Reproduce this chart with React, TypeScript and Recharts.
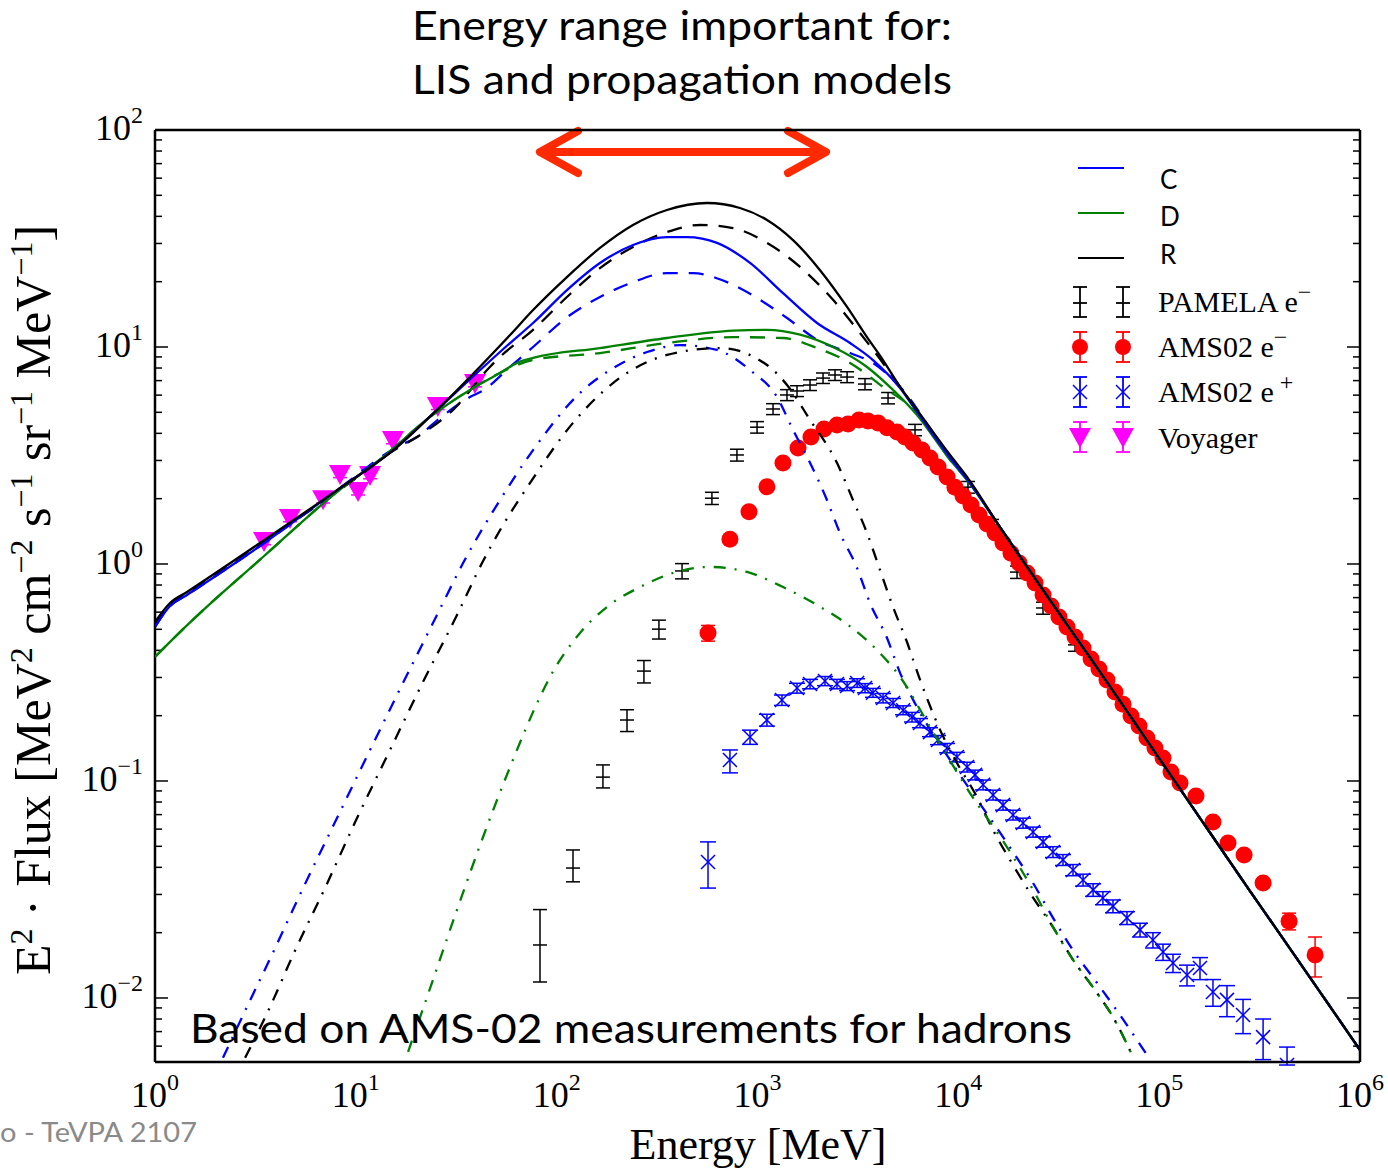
import React from 'react';
import { ComposedChart, Line, Scatter, XAxis, YAxis, ErrorBar, ReferenceLine } from 'recharts';

const W = 1388;
const H = 1171;
const SERIF = '"Liberation Serif", "Times New Roman", serif';
const SANS = 'Lato, "Open Sans", sans-serif';

const X_DOMAIN: [number, number] = [1, 1e6];
const Y_DOMAIN: [number, number] = [0.00507, 100];
const X_MAJOR = [1, 10, 100, 1000, 10000, 100000, 1000000];
const X_MAJOR_EXP = ['0', '1', '2', '3', '4', '5', '6'];
const Y_MAJOR = [0.01, 0.1, 1, 10, 100];
const Y_MAJOR_EXP = ['\u22122', '\u22121', '0', '1', '2'];
const MINOR_MULT = [2, 3, 4, 5, 6, 7, 8, 9];
const X_MINOR = X_MAJOR.slice(0, 6).flatMap((d) => MINOR_MULT.map((m) => m * d));
const Y_MINOR = [0.001, 0.01, 0.1, 1, 10]
  .flatMap((d) => MINOR_MULT.map((m) => m * d))
  .filter((v) => v >= Y_DOMAIN[0] && v <= Y_DOMAIN[1]);

// shared high-energy tail of the six model curves
const TAIL_E = [28600, 50740, 90000, 159700, 283400, 502700, 1000000];
const TAIL_F = [0.682, 0.318, 0.1466, 0.0675, 0.0311, 0.01449, 0.00576];

// R (black solid)
const R_E = [1, 1.188, 1.443, 3.333, 8.06, 16.03, 25.36, 58.6, 76.3, 112.5, 164.3, 239.9, 354.2, 560.5, 818, 1115, 1503, 2048, 2792, 3510, 4215, 5126, 6227, 9096, 11050, 16110];
const R_F = [0.541, 0.661, 0.743, 1.25, 2.19, 3.46, 5.13, 11.36, 14.8, 21.0, 28.6, 36.5, 42.8, 46.1, 43.7, 38.5, 31.1, 22.6, 15.3, 11.1, 8.71, 6.55, 5.13, 3.18, 2.52, 1.48];
// R (black dashed)
const RD_E = [1, 1.188, 1.443, 3.333, 8.06, 11.37, 14.8, 20.9, 30.5, 46.5, 52.2, 76.3, 112.5, 164.3, 239.9, 354.2, 517, 755, 1115, 1629, 2377, 3238, 4215, 5126, 6227, 9096, 11050, 16110];
const RD_F = [0.53, 0.655, 0.737, 1.24, 2.15, 2.71, 3.25, 3.93, 5.13, 8.09, 9.0, 12.0, 17.0, 23.1, 28.9, 33.9, 36.5, 35.3, 30.2, 23.4, 16.5, 11.6, 8.44, 6.55, 5.07, 3.08, 2.46, 1.48];
// C (blue solid)
const C_E = [1, 1.188, 1.443, 3.333, 8.06, 16.03, 25.36, 58.6, 76.3, 112.5, 164.3, 239.9, 354.2, 445.4, 628.6, 918, 1340, 1979, 2890, 3758, 5126, 6227, 9096, 11050, 16110];
const C_F = [0.513, 0.64, 0.72, 1.21, 2.19, 3.46, 5.13, 10.43, 12.9, 18.3, 24.4, 29.5, 32.1, 32.1, 30.2, 24.4, 17.7, 12.9, 10.43, 8.71, 6.47, 5.02, 3.08, 2.46, 1.48];
// C (blue dashed)
const CD_E = [1, 1.188, 1.443, 3.333, 8.06, 16.03, 20.17, 26.3, 37.0, 43.0, 58.6, 76.3, 112.5, 164.3, 239.9, 354.2, 477, 705, 1029, 1403, 1979, 2890, 3758, 5126, 9096, 11050, 16110];
const CD_F = [0.513, 0.64, 0.72, 1.21, 2.19, 3.46, 3.85, 4.71, 5.88, 6.3, 8.09, 10.0, 13.7, 17.0, 19.9, 21.9, 21.9, 19.9, 16.5, 13.6, 10.8, 9.38, 8.44, 6.55, 3.08, 2.46, 1.48];
// D (green solid)
const D_E = [1, 1.363, 1.675, 3.45, 8.06, 13.65, 23.4, 37.0, 52.2, 63.5, 76.3, 164.3, 354.2, 755, 1115, 1629, 2377, 3510, 4729, 6227, 9096, 11050, 16110];
const D_F = [0.373, 0.496, 0.594, 1.077, 2.15, 3.11, 4.76, 6.34, 7.59, 8.44, 8.9, 9.89, 11.0, 11.9, 12.0, 11.4, 10.0, 8.09, 6.34, 4.86, 3.02, 2.44, 1.48];
// D (green dashed)
const DD_E = [1, 1.363, 1.675, 3.45, 8.06, 13.65, 23.4, 37.0, 52.2, 76.3, 164.3, 354.2, 755, 1340, 1979, 2890, 4215, 6227, 9096, 11050, 16110];
const DD_F = [0.373, 0.496, 0.594, 1.077, 2.15, 3.11, 4.76, 6.34, 7.59, 8.71, 9.38, 10.43, 11.1, 11.0, 9.89, 8.44, 6.55, 4.97, 3.02, 2.44, 1.48];

// dash-dot components
const CDOT_E = [2.18, 2.87, 3.82, 5.46, 8.06, 11.77, 17.17, 25.36, 34.2, 52.2, 76.3, 130.7, 184.4, 281.6, 411, 628.6, 918, 1250, 1503, 1828, 2199, 2574, 3131, 3631, 4415, 5126, 6227, 9096, 17470, 23550, 29610, 37240, 49060, 63800, 87000];
const CDOT_F = [0.0053, 0.0091, 0.0158, 0.0321, 0.0675, 0.139, 0.283, 0.582, 1.01, 1.97, 3.35, 6.14, 7.83, 9.48, 10.2, 9.69, 7.83, 5.88, 4.15, 2.92, 2.01, 1.39, 0.959, 0.661, 0.456, 0.315, 0.219, 0.125, 0.0518, 0.0339, 0.0234, 0.0166, 0.01173, 0.00835, 0.00546];
const RDOT_E = [2.81, 3.74, 4.87, 7.02, 10.14, 14.8, 21.6, 31.9, 42.5, 52.2, 73.6, 120.6, 190.8, 354.2, 650, 1115, 1403, 1828, 2489, 2990, 3510, 4075, 4729, 5550, 6370, 8110, 9850, 12390, 14890, 18080, 22750, 29610, 37240, 49060, 58900, 74100];
const RDOT_F = [0.0053, 0.0091, 0.0158, 0.0321, 0.0675, 0.139, 0.286, 0.582, 1.01, 1.43, 2.36, 4.47, 6.82, 9.19, 9.89, 8.26, 6.68, 4.61, 2.92, 1.97, 1.39, 0.938, 0.634, 0.437, 0.302, 0.172, 0.121, 0.0844, 0.0594, 0.0433, 0.0305, 0.0212, 0.015, 0.01054, 0.00817, 0.00535];
const DDOT_E = [18.2, 24.2, 31.9, 43.0, 58.6, 82.6, 92.7, 130.7, 178.1, 260, 379.5, 580, 886, 1340, 1979, 2824, 3938, 5126, 7227, 11430, 17470, 23550, 29610, 37240, 49060, 58900, 74100];
const DDOT_F = [0.00564, 0.0121, 0.0255, 0.0552, 0.116, 0.244, 0.302, 0.481, 0.634, 0.783, 0.909, 0.969, 0.919, 0.783, 0.647, 0.524, 0.401, 0.302, 0.1774, 0.088, 0.0496, 0.0315, 0.0212, 0.015, 0.01054, 0.00817, 0.00535];

// PAMELA e-
const PAM_E = [82.6, 120.6, 170, 224, 272, 323, 421, 593, 790, 995, 1195, 1402, 1573, 1826, 2120, 2432, 2793, 3430, 4467, 6086, 11170, 14720, 19600, 26400, 38100];
const PAM_F = [0.01755, 0.0397, 0.1042, 0.191, 0.321, 0.501, 0.929, 2.01, 3.18, 4.27, 5.18, 6.01, 6.27, 6.68, 7.19, 7.43, 7.27, 6.75, 5.82, 4.15, 2.26, 1.51, 0.918, 0.627, 0.424];
const PAM_ERR: (number | number[])[] = [[0.0057, 0.008], [0.0054, 0.0084], [0.0113, 0.0144], 0.022, 0.038, 0.05, 0.075, 0.13, 0.2, 0.26, 0.3, 0.35, 0.36, 0.38, 0.4, 0.42, 0.42, 0.4, 0.35, 0.25, 0.14, 0.095, 0.06, 0.04, 0.028];

// AMS02 e-
const AEM_E = [567, 729, 907, 1114, 1339, 1591, 1846, 2143, 2488, 2824, 3201, 3548, 3981, 4416, 4953, 5420, 5943, 6590, 7225, 7925, 8790, 9620, 10550, 11570, 12680, 13900, 15240, 16690, 18300, 20060, 21990, 24100, 26420, 28960, 31700, 34770, 38110, 41780, 45800, 50150, 54980, 60270, 66070, 72430, 79400, 86930, 95300, 104500, 114500, 127000, 152500, 185300, 220200, 264700, 329200, 443600, 597500];
const AEM_F = [0.481, 1.3, 1.74, 2.27, 2.92, 3.42, 3.85, 4.19, 4.37, 4.42, 4.61, 4.56, 4.47, 4.24, 4.06, 3.85, 3.61, 3.35, 3.08, 2.8, 2.52, 2.26, 2.06, 1.87, 1.68, 1.53, 1.39, 1.25, 1.12, 1.01, 0.909, 0.817, 0.72, 0.64, 0.57, 0.513, 0.461, 0.41, 0.365, 0.328, 0.292, 0.257, 0.226, 0.1994, 0.1792, 0.1578, 0.1419, 0.1276, 0.11, 0.098, 0.0853, 0.0647, 0.0518, 0.0456, 0.0339, 0.0226, 0.0158];
const AEM_ERR: number[] = [0.04, 0.03, 0.03, 0.04, 0.04, 0.05, 0.05, 0.05, 0.05, 0.05, 0.05, 0.05, 0.05, 0.05, 0.05, 0.04, 0.04, 0.04, 0.04, 0.03, 0.03, 0.03, 0.03, 0.02, 0.02, 0.02, 0.02, 0.02, 0.015, 0.015, 0.013, 0.012, 0.01, 0.009, 0.008, 0.007, 0.006, 0.006, 0.005, 0.005, 0.004, 0.004, 0.004, 0.003, 0.003, 0.003, 0.003, 0.003, 0.003, 0.003, 0.003, 0.0025, 0.002, 0.002, 0.0015, 0.002, 0.0033];

// AMS02 e+
const AEP_E = [567, 729, 918, 1114, 1324, 1573, 1826, 2168, 2488, 2793, 3133, 3430, 3760, 4217, 4731, 5308, 5880, 6445, 7225, 7925, 8790, 9840, 11050, 12110, 13280, 14890, 16690, 18720, 21000, 23550, 26420, 29600, 33200, 37240, 41780, 46880, 52480, 58880, 69150, 80300, 93100, 104500, 117200, 137600, 159700, 185300, 217600, 261600, 329200, 433200];
const AEP_F = [0.0423, 0.125, 0.1595, 0.191, 0.236, 0.268, 0.28, 0.289, 0.28, 0.274, 0.283, 0.268, 0.255, 0.241, 0.229, 0.212, 0.197, 0.185, 0.168, 0.1545, 0.1419, 0.129, 0.116, 0.1067, 0.096, 0.0862, 0.0774, 0.0697, 0.064, 0.0582, 0.0524, 0.0471, 0.0433, 0.0389, 0.035, 0.0315, 0.0289, 0.0265, 0.0234, 0.0206, 0.0185, 0.0163, 0.0145, 0.01277, 0.01375, 0.01066, 0.0098, 0.00835, 0.0066, 0.00491];
const AEP_ERR: (number | number[])[] = [[0.0102, 0.0101], [0.016, 0.014], 0.012, 0.012, 0.013, 0.014, 0.014, 0.014, 0.014, 0.013, 0.013, 0.013, 0.012, 0.012, 0.011, 0.01, 0.01, 0.009, 0.008, 0.0075, 0.007, 0.0065, 0.006, 0.0055, 0.005, 0.0045, 0.004, 0.0036, 0.0034, 0.0031, 0.0029, 0.0027, 0.0025, 0.0023, 0.0022, 0.0021, 0.002, 0.0018, 0.0016, 0.0015, 0.0015, 0.0014, 0.0014, 0.0014, 0.0016, 0.0015, 0.0016, 0.0015, 0.0014, [0, 0.00103]];

// Voyager
const VOY_E = [3.49, 4.7, 6.87, 8.34, 10.26, 11.77, 15.31, 25.6, 39.2];
const VOY_F = [1.276, 1.63, 1.99, 2.6, 2.17, 2.57, 3.73, 5.35, 6.82];
const VOY_ERR = [0.05, 0.065, 0.08, 0.1, 0.09, 0.1, 0.15, 0.2, 0.27];

// annotation arrow (energy range)
const ARROW_E = [80.7, 2244];
const ARROW_F = 79.2;

const zip = (E: number[], F: number[]) => E.map((x, i) => ({ x, y: F[i] }));
const withTail = (E: number[], F: number[]) => zip([...E, ...TAIL_E], [...F, ...TAIL_F]);
const zipErr = (E: number[], F: number[], R: any[]) => E.map((x, i) => ({ x, y: F[i], err: R[i] }));

const BLUE = '#0000ff';
const GREEN = '#008000';
const RED = '#ff0000';
const MAGENTA = '#ff00ff';
const DASH = '15 11';
const DASHDOT = '12 9 2 9';

const XTick = (props: any) => {
  const { x, y, payload } = props;
  const i = X_MAJOR.indexOf(payload.value);
  return (
    <text x={x} y={y + 45} textAnchor="middle" fontFamily={SERIF} fontSize={36} fill="#000">
      10<tspan dy={-17} fontSize={24}>{X_MAJOR_EXP[i]}</tspan>
    </text>
  );
};

const YTick = (props: any) => {
  const { x, y, payload } = props;
  const i = Y_MAJOR.findIndex((v) => Math.abs(v - payload.value) / v < 1e-6);
  return (
    <text x={x} y={y + 10} textAnchor="end" fontFamily={SERIF} fontSize={36} fill="#000">
      10<tspan dy={-17} fontSize={24}>{Y_MAJOR_EXP[i]}</tspan>
    </text>
  );
};

const NoLabel = () => <g />;

const PamShape = (p: any) => (
  <line x1={p.cx - 7} x2={p.cx + 7} y1={p.cy} y2={p.cy} stroke="#000" strokeWidth={1.5} />
);
const AemShape = (p: any) => <circle cx={p.cx} cy={p.cy} r={8.5} fill={RED} />;
const AepShape = (p: any) => (
  <g stroke={BLUE} strokeWidth={1.5}>
    <line x1={p.cx - 7} y1={p.cy - 7} x2={p.cx + 7} y2={p.cy + 7} />
    <line x1={p.cx - 7} y1={p.cy + 7} x2={p.cx + 7} y2={p.cy - 7} />
  </g>
);
const VoyShape = (p: any) => (
  <polygon
    points={`${p.cx - 11},${p.cy - 9} ${p.cx + 11},${p.cy - 9} ${p.cx},${p.cy + 11}`}
    fill={MAGENTA}
  />
);

const ArrowShape = (p: any) => {
  const { x1, y1, x2, y2 } = p;
  const c = '#ff2a00';
  return (
    <g stroke={c} strokeWidth={8} strokeLinecap="round" fill="none">
      <line x1={x1 + 4} y1={y1} x2={x2 - 4} y2={y2} />
      <polyline points={`${x1 + 40},${y1 - 21} ${x1 + 2},${y1} ${x1 + 40},${y1 + 21}`} strokeLinejoin="round" />
      <polyline points={`${x2 - 40},${y2 - 21} ${x2 - 2},${y2} ${x2 - 40},${y2 + 21}`} strokeLinejoin="round" />
    </g>
  );
};

const axisCommon = {
  type: 'number' as const,
  scale: 'log' as const,
  allowDataOverflow: true,
  interval: 0 as const,
};

const frameLine = { stroke: '#000', strokeWidth: 2.5 };
const tickLineStyle = { stroke: '#000', strokeWidth: 1.5 };

const LegendErr = ({ x, y, color, h = 15 }: { x: number; y: number; color: string; h?: number }) => (
  <g stroke={color} strokeWidth={1.8}>
    <line x1={x} x2={x} y1={y - h} y2={y + h} />
    <line x1={x - 7} x2={x + 7} y1={y - h} y2={y - h} />
    <line x1={x - 7} x2={x + 7} y1={y + h} y2={y + h} />
  </g>
);

const LEG_MX = [1080, 1123];

const Overlay = () => (
  <svg width={W} height={H} style={{ position: 'absolute', left: 0, top: 0, pointerEvents: 'none' }}>
    <text x={682} y={40} textAnchor="middle" fontFamily={SANS} fontSize={40} textLength={540} lengthAdjust="spacingAndGlyphs" fill="#000">
      Energy range important for:
    </text>
    <text x={682} y={94} textAnchor="middle" fontFamily={SANS} fontSize={40} textLength={540} lengthAdjust="spacingAndGlyphs" fill="#000">
      LIS and propagation models
    </text>
    <text x={190} y={1043} fontFamily={SANS} fontSize={40} textLength={882} lengthAdjust="spacingAndGlyphs" fill="#000">
      Based on AMS-02 measurements for hadrons
    </text>
    <text x={0} y={1142} fontFamily={SANS} fontSize={26} textLength={197} lengthAdjust="spacingAndGlyphs" fill="#8a8a8a">
      o - TeVPA 2107
    </text>
    <text x={758} y={1159} textAnchor="middle" fontFamily={SERIF} fontSize={44} fill="#000">
      Energy [MeV]
    </text>
    <text transform="rotate(-90)" x={-600} y={50} textAnchor="middle" fontFamily={SERIF} fontSize={50} fill="#000">
      E<tspan dy={-18} fontSize={32}>2</tspan>
      <tspan dy={18}> · Flux [MeV</tspan>
      <tspan dy={-18} fontSize={32}>2</tspan>
      <tspan dy={18}> cm</tspan>
      <tspan dy={-18} fontSize={32}>{'\u22122'}</tspan>
      <tspan dy={18}> s</tspan>
      <tspan dy={-18} fontSize={32}>{'\u22121'}</tspan>
      <tspan dy={18}> sr</tspan>
      <tspan dy={-18} fontSize={32}>{'\u22121'}</tspan>
      <tspan dy={18}> MeV</tspan>
      <tspan dy={-18} fontSize={32}>{'\u22121'}</tspan>
      <tspan dy={18}>]</tspan>
    </text>

    {/* legend */}
    <line x1={1078} x2={1124} y1={168} y2={168} stroke={BLUE} strokeWidth={2.2} />
    <line x1={1078} x2={1124} y1={213} y2={213} stroke={GREEN} strokeWidth={2.2} />
    <line x1={1078} x2={1124} y1={258} y2={258} stroke="#000" strokeWidth={2.2} />
    <text x={1160} y={189} fontFamily={SANS} fontSize={26} fill="#000">C</text>
    <text x={1160} y={226} fontFamily={SANS} fontSize={26} fill="#000">D</text>
    <text x={1160} y={264} fontFamily={SANS} fontSize={26} fill="#000">R</text>

    {LEG_MX.map((x) => (
      <g key={'p' + x}>
        <LegendErr x={x} y={302} color="#000" />
        <line x1={x - 7} x2={x + 7} y1={303} y2={303} stroke="#000" strokeWidth={1.8} />
        <LegendErr x={x} y={347} color={RED} />
        <circle cx={x} cy={347} r={8} fill={RED} />
        <LegendErr x={x} y={392} color={BLUE} />
        <g stroke={BLUE} strokeWidth={1.5}>
          <line x1={x - 7} y1={385} x2={x + 7} y2={399} />
          <line x1={x - 7} y1={399} x2={x + 7} y2={385} />
        </g>
        <LegendErr x={x} y={437} color={MAGENTA} />
        <polygon points={`${x - 11},${428} ${x + 11},${428} ${x},${448}`} fill={MAGENTA} />
      </g>
    ))}
    <text x={1158} y={312} fontFamily={SERIF} fontSize={30} fill="#000">
      PAMELA e<tspan dy={-12} fontSize={24}>{'\u2212'}</tspan>
    </text>
    <text x={1158} y={357} fontFamily={SERIF} fontSize={30} fill="#000">
      AMS02 e<tspan dy={-12} fontSize={24}>{'\u2212'}</tspan>
    </text>
    <text x={1158} y={402} fontFamily={SERIF} fontSize={30} fill="#000">
      AMS02 e<tspan dy={-12} fontSize={24}> +</tspan>
    </text>
    <text x={1158} y={448} fontFamily={SERIF} fontSize={30} fill="#000">
      Voyager
    </text>
  </svg>
);

export default function App() {
  const lineCommon: any = {
    xAxisId: 'x',
    yAxisId: 'y',
    dataKey: 'y',
    dot: false,
    activeDot: false,
    isAnimationActive: false,
    type: 'monotone' as const,
    strokeWidth: 2.3,
    zIndex: 700,
  };
  const scatterZ: any = { zIndex: 500 };
  return (
    <div style={{ position: 'absolute', left: 0, top: 0, width: W, height: H, background: '#fff' }}>
      <ComposedChart width={W} height={H} margin={{ top: 130, right: 28, bottom: 69, left: 95 }}>
        {/* frame axes (inward ticks, mirrored so they take no space) */}
        <XAxis xAxisId="xb1" {...axisCommon} domain={X_DOMAIN} ticks={X_MAJOR} orientation="bottom" mirror height={1} tick={<NoLabel />} tickSize={13} axisLine={frameLine} tickLine={tickLineStyle} />
        <XAxis xAxisId="xb2" {...axisCommon} domain={X_DOMAIN} ticks={X_MINOR} orientation="bottom" mirror height={1} tick={<NoLabel />} tickSize={6} axisLine={false} tickLine={tickLineStyle} />
        <XAxis xAxisId="xt1" {...axisCommon} domain={X_DOMAIN} ticks={X_MAJOR} orientation="top" mirror height={1} tick={<NoLabel />} tickSize={13} axisLine={frameLine} tickLine={tickLineStyle} />
        <XAxis xAxisId="xt2" {...axisCommon} domain={X_DOMAIN} ticks={X_MINOR} orientation="top" mirror height={1} tick={<NoLabel />} tickSize={6} axisLine={false} tickLine={tickLineStyle} />
        <YAxis yAxisId="yl1" {...axisCommon} domain={Y_DOMAIN} ticks={Y_MAJOR} orientation="left" mirror width={1} tick={<NoLabel />} tickSize={13} axisLine={frameLine} tickLine={tickLineStyle} />
        <YAxis yAxisId="yl2" {...axisCommon} domain={Y_DOMAIN} ticks={Y_MINOR} orientation="left" mirror width={1} tick={<NoLabel />} tickSize={6} axisLine={false} tickLine={tickLineStyle} />
        <YAxis yAxisId="yr1" {...axisCommon} domain={Y_DOMAIN} ticks={Y_MAJOR} orientation="right" mirror width={1} tick={<NoLabel />} tickSize={13} axisLine={frameLine} tickLine={tickLineStyle} />
        <YAxis yAxisId="yr2" {...axisCommon} domain={Y_DOMAIN} ticks={Y_MINOR} orientation="right" mirror width={1} tick={<NoLabel />} tickSize={6} axisLine={false} tickLine={tickLineStyle} />

        {/* label axes used by the data */}
        <XAxis xAxisId="x" dataKey="x" {...axisCommon} domain={X_DOMAIN} ticks={X_MAJOR} orientation="bottom" height={40} tickLine={false} axisLine={false} tickSize={0} tickMargin={0} tick={<XTick />} />
        <YAxis yAxisId="y" dataKey="y" {...axisCommon} domain={Y_DOMAIN} ticks={Y_MAJOR} orientation="left" width={60} tickLine={false} axisLine={false} tickSize={0} tickMargin={12} tick={<YTick />} />

        <ReferenceLine
          xAxisId="x"
          yAxisId="y"
          segment={[{ x: ARROW_E[0], y: ARROW_F }, { x: ARROW_E[1], y: ARROW_F }]}
          shape={ArrowShape}
          ifOverflow="visible"
        />

        <Scatter {...scatterZ} name="PAMELA" data={zipErr(PAM_E, PAM_F, PAM_ERR)} xAxisId="x" yAxisId="y" dataKey="y" shape={PamShape} isAnimationActive={false}>
          <ErrorBar dataKey="err" direction="y" width={7} stroke="#000" strokeWidth={1.5} isAnimationActive={false} />
        </Scatter>
        <Scatter {...scatterZ} name="AMS02 e-" data={zipErr(AEM_E, AEM_F, AEM_ERR)} xAxisId="x" yAxisId="y" dataKey="y" shape={AemShape} isAnimationActive={false}>
          <ErrorBar dataKey="err" direction="y" width={7} stroke={RED} strokeWidth={1.5} isAnimationActive={false} />
        </Scatter>
        <Scatter {...scatterZ} name="AMS02 e+" data={zipErr(AEP_E, AEP_F, AEP_ERR)} xAxisId="x" yAxisId="y" dataKey="y" shape={AepShape} isAnimationActive={false}>
          <ErrorBar dataKey="err" direction="y" width={8} stroke={BLUE} strokeWidth={1.5} isAnimationActive={false} />
        </Scatter>
        <Scatter {...scatterZ} name="Voyager" data={zipErr(VOY_E, VOY_F, VOY_ERR)} xAxisId="x" yAxisId="y" dataKey="y" shape={VoyShape} isAnimationActive={false}>
          <ErrorBar dataKey="err" direction="y" width={7} stroke={MAGENTA} strokeWidth={1.5} isAnimationActive={false} />
        </Scatter>

        <Line {...lineCommon} data={zip(CDOT_E, CDOT_F)} stroke={BLUE} strokeDasharray={DASHDOT} />
        <Line {...lineCommon} data={zip(RDOT_E, RDOT_F)} stroke="#000" strokeDasharray={DASHDOT} />
        <Line {...lineCommon} data={zip(DDOT_E, DDOT_F)} stroke={GREEN} strokeDasharray={DASHDOT} />
        <Line {...lineCommon} data={withTail(CD_E, CD_F)} stroke={BLUE} strokeDasharray={DASH} />
        <Line {...lineCommon} data={withTail(RD_E, RD_F)} stroke="#000" strokeDasharray={DASH} />
        <Line {...lineCommon} data={withTail(DD_E, DD_F)} stroke={GREEN} strokeDasharray={DASH} />
        <Line {...lineCommon} data={withTail(D_E, D_F)} stroke={GREEN} />
        <Line {...lineCommon} data={withTail(C_E, C_F)} stroke={BLUE} />
        <Line {...lineCommon} data={withTail(R_E, R_F)} stroke="#000" />
      </ComposedChart>
      <Overlay />
    </div>
  );
}
